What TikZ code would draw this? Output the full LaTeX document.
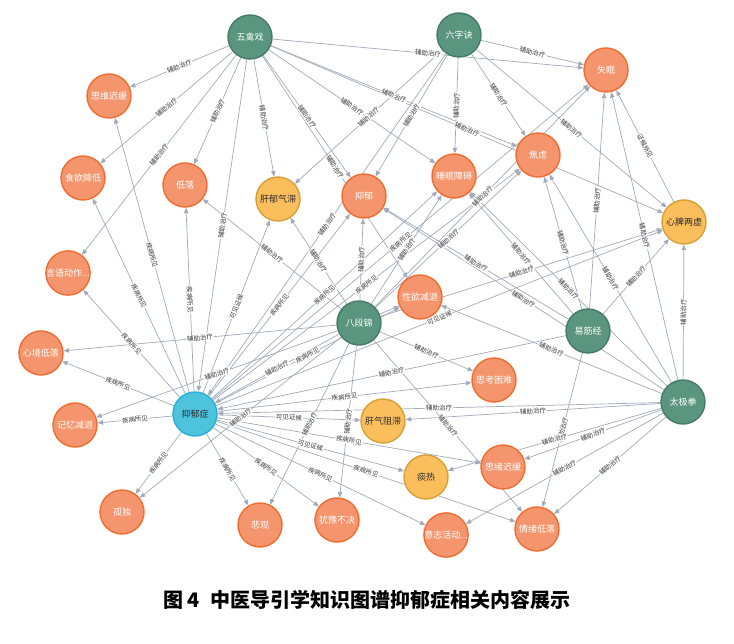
\documentclass[tikz,border=0pt]{standalone}
\usepackage{fontspec}
\newfontfamily\cjk{Noto Sans CJK SC}
\usetikzlibrary{arrows.meta}
\pgfdeclarelayer{edgelayer}
\pgfdeclarelayer{labellayer}
\pgfsetlayers{edgelayer,labellayer,main}
\definecolor{gfill}{RGB}{90,149,128}
\definecolor{gdraw}{RGB}{72,122,104}
\definecolor{ofill}{RGB}{244,149,110}
\definecolor{odraw}{RGB}{240,108,48}
\definecolor{yfill}{RGB}{251,190,92}
\definecolor{ydraw}{RGB}{214,160,52}
\definecolor{bfill}{RGB}{78,195,220}
\definecolor{bdraw}{RGB}{40,176,212}
\definecolor{ecol}{RGB}{160,170,186}
\definecolor{txt}{RGB}{45,45,45}
\definecolor{ltxt}{RGB}{60,60,60}
\tikzset{
  base/.style={circle, minimum size=44pt, inner sep=0pt, line width=1.4pt, font=\cjk\fontsize{9}{9}\selectfont},
  ex/.style={base, fill=gfill, draw=gdraw, text=white},
  sym/.style={base, fill=ofill, draw=odraw, text=white},
  syn/.style={base, fill=yfill, draw=ydraw, text=txt},
  dis/.style={base, fill=bfill, draw=bdraw, text=txt},
  rel/.style={draw=ecol, line width=0.7pt, -{Triangle[length=5.5pt,width=4.5pt]}},
  lbl/.style={font=\cjk\fontsize{6.5}{6.5}\selectfont, text=ltxt, fill=white, inner sep=0.6pt, sloped, midway}
}
\newcommand\gedge[3]{%
  \begin{pgfonlayer}{edgelayer}\draw[rel] (#1) -- (#2);\end{pgfonlayer}%
  \begin{pgfonlayer}{labellayer}\path (#1) -- (#2) node[lbl] {#3};\end{pgfonlayer}}
\begin{document}
\begin{tikzpicture}[x=1pt,y=-1pt]
\useasboundingbox (0,0) rectangle (734,644);
% exercises
\node[ex] (wqx) at (250,37) {五禽戏};
\node[ex] (lzj) at (459,35) {六字诀};
\node[ex] (bdj) at (359,323) {八段锦};
\node[ex] (yjj) at (588,331) {易筋经};
\node[ex] (tjq) at (683,402) {太极拳};
% disease
\node[dis] (yyz) at (195,414) {抑郁症};
% syndromes
\node[syn] (gyqz) at (278,199) {肝郁气滞};
\node[syn] (xplx) at (684,222) {心脾两虚};
\node[syn] (gqzz) at (383,421) {肝气阻滞};
\node[syn] (tr) at (426,477) {痰热};
% symptoms
\node[sym] (sm) at (606,70) {失眠};
\node[sym] (swch) at (109,96) {思维迟缓};
\node[sym] (syjd) at (83,178) {食欲降低};
\node[sym] (dl) at (185,185) {低落};
\node[sym] (yy) at (364,196) {抑郁};
\node[sym] (smza) at (454,176) {睡眠障碍};
\node[sym] (jl) at (538,155) {焦虑};
\node[sym] (yydz) at (68,273) {言语动作...};
\node[sym] (xyjt) at (420,297) {性欲减退};
\node[sym] (xjdl) at (41,353) {心境低落};
\node[sym] (sknn) at (494,380) {思考困难};
\node[sym] (jyjt) at (75,425) {记忆减退};
\node[sym] (sxch) at (503,467) {思绪迟缓};
\node[sym] (gd) at (122,512) {孤独};
\node[sym] (bg) at (260,525) {悲观};
\node[sym] (yybj) at (337,520) {犹豫不决};
\node[sym] (yzhd) at (446,535) {意志活动...};
\node[sym] (qxdl) at (537,529) {情绪低落};
% caption
\node[font=\cjk\bfseries\fontsize{20}{20}\selectfont, text=black] (cap) at (367,600) {图 4\hspace{0.55em}中医导引学知识图谱抑郁症相关内容展示};
% 五禽戏
\foreach \t in {swch,syjd,yydz,dl,gyqz,yy,xyjt,smza,jl,xplx,sm,yyz}{\gedge{wqx}{\t}{辅助治疗}}
% 六字诀
\foreach \t in {sm,smza,jl,xplx,yy,gyqz,yyz}{\gedge{lzj}{\t}{辅助治疗}}
% 八段锦
\foreach \t in {dl,gyqz,yy,smza,jl,sm,xplx,xjdl,jyjt,gd,bg,yybj,sknn,qxdl,yyz}{\gedge{bdj}{\t}{辅助治疗}}
\begin{pgfonlayer}{edgelayer}\draw[rel] (bdj) -- (xyjt);\end{pgfonlayer}
% 易筋经
\foreach \t in {jl,sm,xplx,smza,yy,yyz,qxdl}{\gedge{yjj}{\t}{辅助治疗}}
% 太极拳
\foreach \t in {xplx,sm,jl,yy,smza,xyjt,yyz,gqzz,sxch,tr,yzhd,qxdl}{\gedge{tjq}{\t}{辅助治疗}}
% 抑郁症
\foreach \t in {swch,syjd,dl,yydz,xjdl,jyjt,gd,bg,yybj,yzhd,qxdl,sxch,sknn,yy,smza,jl,xyjt,sm}{\gedge{yyz}{\t}{疾病所见}}
\foreach \t in {gyqz,gqzz,tr,xplx}{\gedge{yyz}{\t}{可见证候}}
% 心脾两虚
\gedge{xplx}{sm}{证候所见}
\end{tikzpicture}
\end{document}
